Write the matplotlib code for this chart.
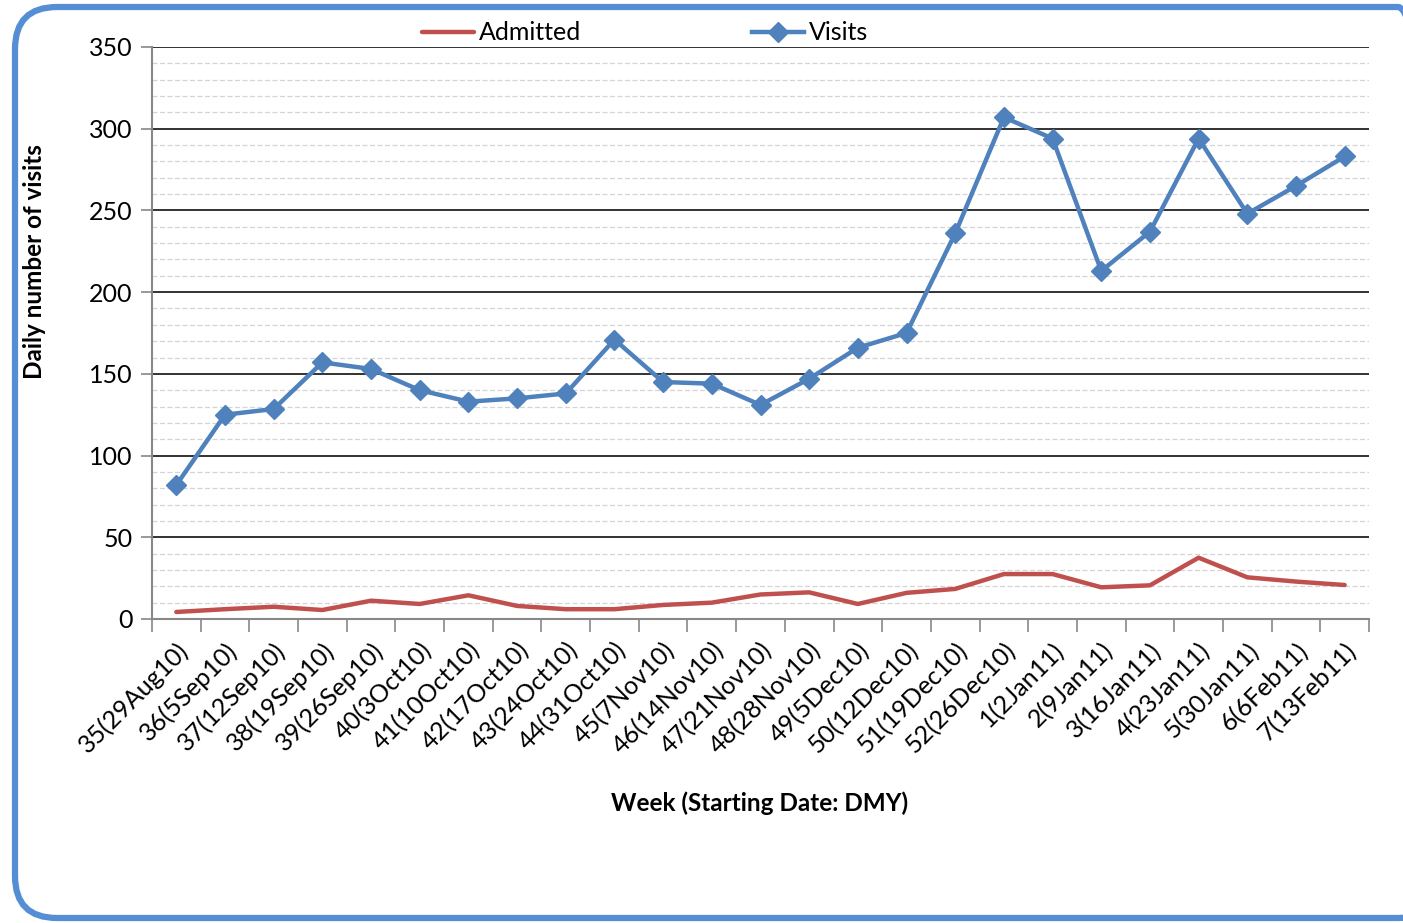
import numpy as np
import matplotlib.pyplot as plt
from matplotlib.patches import FancyBboxPatch
from matplotlib.ticker import MultipleLocator

plt.rcParams['font.family'] = ['Lato', 'DejaVu Sans']

weeks = ["35(29Aug10)", "36(5Sep10)", "37(12Sep10)", "38(19Sep10)", "39(26Sep10)",
         "40(3Oct10)", "41(10Oct10)", "42(17Oct10)", "43(24Oct10)", "44(31Oct10)",
         "45(7Nov10)", "46(14Nov10)", "47(21Nov10)", "48(28Nov10)", "49(5Dec10)",
         "50(12Dec10)", "51(19Dec10)", "52(26Dec10)", "1(2Jan11)", "2(9Jan11)",
         "3(16Jan11)", "4(23Jan11)", "5(30Jan11)", "6(6Feb11)", "7(13Feb11)"]
visits = [82, 125, 128.5, 157, 153, 140, 133, 135, 138, 171, 145, 144, 131, 147, 166,
          175, 236, 307, 294, 213, 237, 294, 248, 265, 283]
admitted = [4.3, 6, 7.5, 5.5, 11.2, 9.2, 14.5, 8, 6, 6, 8.6, 10, 15, 16.3, 9.2,
            16, 18.4, 27.5, 27.5, 19.4, 20.6, 37.5, 25.5, 22.9, 20.8]

RED = "#C0504D"
BLUE = "#4F81BD"
W, H = 1403, 923

fig = plt.figure(figsize=(W / 100, H / 100), dpi=100)
ax = fig.add_axes([152 / W, 1 - 619 / H, (1369 - 152) / W, (619 - 47) / H])

x = np.arange(len(weeks))
ax.plot(x, admitted, color=RED, lw=3.2, label="Admitted", solid_capstyle="round")
ax.plot(x, visits, color=BLUE, lw=3.2, marker="D", markersize=10, label="Visits")

ax.set_xlim(-0.5, len(weeks) - 0.5)
ax.set_ylim(0, 350)
ax.yaxis.set_major_locator(MultipleLocator(50))
ax.yaxis.set_minor_locator(MultipleLocator(10))
ax.grid(axis="y", which="major", color="#222222", lw=1.3)
ax.grid(axis="y", which="minor", color="#d4d4d4", lw=0.9, ls=(0, (4, 2)))
ax.set_axisbelow(True)

ax.set_xticks(x)
ax.set_xticklabels(weeks, rotation=45, ha="right", rotation_mode="anchor")
ax.set_xticks(np.arange(-0.5, len(weeks)), minor=True)
ax.tick_params(axis="x", which="major", length=0, pad=14, labelsize=18)
ax.tick_params(axis="x", which="minor", length=9, color="#888888", width=1.2)
ax.tick_params(axis="y", which="major", length=8, color="#888888", width=1.2, labelsize=18, pad=6)
ax.tick_params(axis="y", which="minor", length=0)

for s in ["top", "right"]:
    ax.spines[s].set_visible(False)
for s in ["left", "bottom"]:
    ax.spines[s].set_color("#888888")
    ax.spines[s].set_linewidth(1.5)

fig.text(35 / W, 1 - 262 / H, "Daily number of visits", rotation=90, fontsize=17.5,
         fontweight="bold", ha="center", va="center")
fig.text(760 / W, 1 - 803 / H, "Week (Starting Date: DMY)", fontsize=17.5,
         fontweight="bold", ha="center", va="center")

fig.legend(loc="center", bbox_to_anchor=(645 / W, 1 - 33 / H), ncol=2, frameon=False,
           fontsize=18, handlelength=2.1, handletextpad=0.2, columnspacing=6.8)

left, top, right, bottom = 15, 7, 1440, 918
frame = FancyBboxPatch((left / W, 1 - bottom / H), (right - left) / W, (bottom - top) / H,
                       boxstyle="round,pad=0,rounding_size=0.03", mutation_aspect=W / H,
                       transform=fig.transFigure, fill=False, ec="#558ED5", lw=4.5,
                       clip_on=False)
fig.patches.append(frame)

fig.savefig("out.png", dpi=100)
